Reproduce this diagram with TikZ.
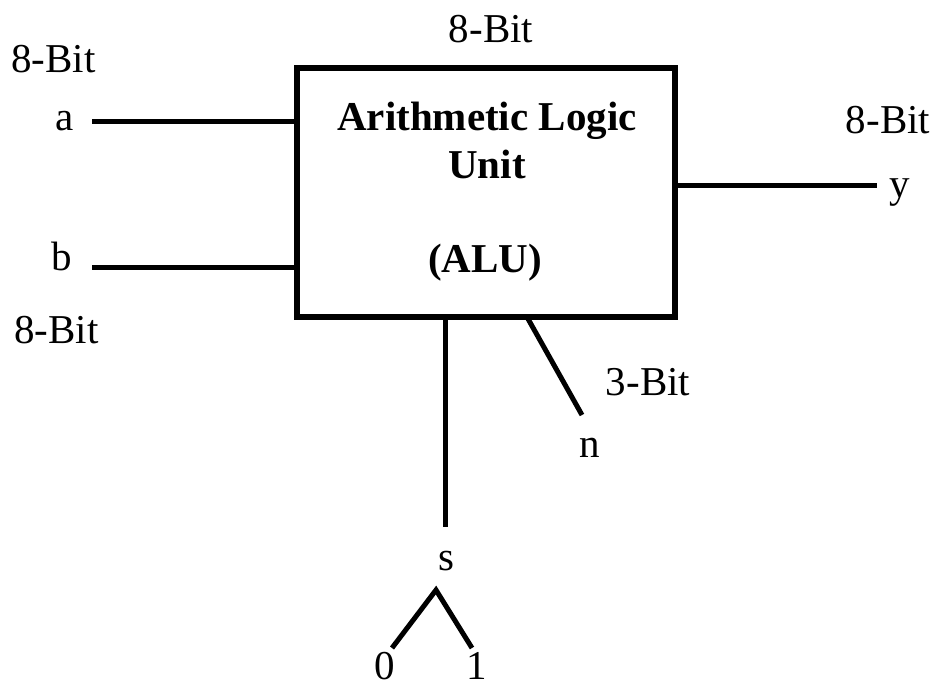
\documentclass[tikz,border=0pt]{standalone}
\usepackage{fontspec}
\setmainfont{Liberation Serif}
\begin{document}
\begin{tikzpicture}[x=0.5pt,y=-0.5pt,
  lbl/.style={inner sep=0pt,anchor=base,font=\fontsize{20.5}{24}\selectfont},
  blbl/.style={lbl,font=\fontsize{20.5}{24}\selectfont\bfseries},
  wire/.style={line width=2.5pt,line cap=butt},
  alubox/.style={draw,line width=2.8pt,rectangle,minimum width=189pt,minimum height=124.5pt,inner sep=0pt}]
\useasboundingbox (0,0) rectangle (943,686);
% box
\node[alubox] (box) at (486,192.5) {};
\node[blbl] (t1) at (487,130) {Arithmetic Logic};
\node[blbl] (t2) at (487,178) {Unit};
\node[blbl] (t3) at (485,272) {(ALU)};
% labels
\node[lbl,anchor=base west] (bitA) at (11,72) {8-Bit};
\node[lbl] (la) at (65,130) {a};
\node[lbl] (lb) at (62,270) {b};
\node[lbl,anchor=base west] (bitB) at (14,343) {8-Bit};
\node[lbl] (bitTop) at (491,42) {8-Bit};
\node[lbl] (bitY) at (888,133) {8-Bit};
\node[lbl] (ly) at (900,197) {y};
\node[lbl] (bitN) at (648,395) {3-Bit};
\node[lbl] (ln) at (590,457) {n};
\node[lbl] (ls) at (446,570) {s};
\node[lbl] (l0) at (385,679) {0};
\node[lbl] (l1) at (477,679) {1};
% wire ends
\coordinate (aL) at (92,121);
\coordinate (aR) at (297,121);
\coordinate (bL) at (92,267);
\coordinate (bR) at (297,267);
\coordinate (yL) at (675,185);
\coordinate (yR) at (877,185);
\coordinate (sT) at (445,317);
\coordinate (sB) at (445,527);
\coordinate (nT) at (527,317);
\coordinate (nB) at (582,415);
\coordinate (apex) at (436,590);
\coordinate (b0) at (392,648);
\coordinate (b1) at (472,648);
% wires
\draw[wire] (aL) -- (aR);
\draw[wire] (bL) -- (bR);
\draw[wire] (yL) -- (yR);
\draw[wire] (sT) -- (sB);
\draw[wire] (nT) -- (nB);
\draw[wire,line join=miter] (b0) -- (apex) -- (b1);
\end{tikzpicture}
\end{document}
